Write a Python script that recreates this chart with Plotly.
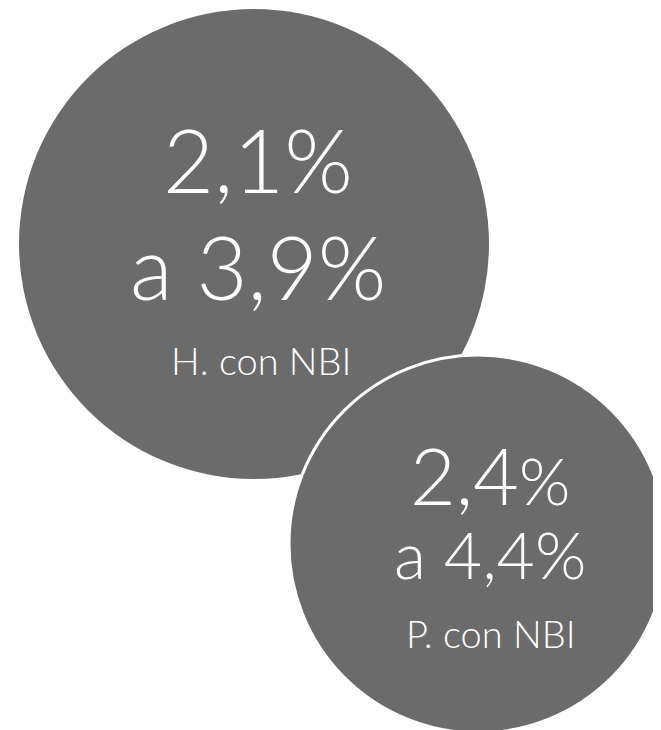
import plotly.graph_objects as go

# Bubble data
bubble_cx = [254, 478]
bubble_cy = [244, 544]
bubble_r = [235, 189]
bubble_line = [0, 3]

# Text content
big_line1 = "2,1%"
big_line2 = "a 3,9%"
big_label = "H. con NBI"
small_line1_num = "2,4"
small_line1_pct = "%"
small_line2 = "a 4,4%"
small_label = "P. con NBI"

GRAY = "#6b6b6b"
FONT = "Lato"
PAGE_OFFSET = 8  # default body margin of the html page

fig = go.Figure()

shapes = []
for cx, cy, r, lw in zip(bubble_cx, bubble_cy, bubble_r, bubble_line):
    shapes.append(dict(
        type="circle", xref="x", yref="y",
        x0=cx - r, x1=cx + r, y0=cy - r, y1=cy + r,
        fillcolor=GRAY,
        line=dict(color="white", width=lw) if lw else dict(width=0),
        layer="below",
    ))

def ann(text, x, baseline, size):
    return dict(
        text=text, x=x, y=baseline - 0.387 * size, xref="x", yref="y",
        xanchor="center", yanchor="middle", showarrow=False, borderpad=0,
        font=dict(family=FONT, size=size, color="white", weight=300),
    )

annotations = [
    ann(big_line1, 258, 193, 88),
    ann(big_line2, 258, 300, 88),
    ann(big_label, 261, 375, 38),
    ann(f"<span style='font-size:79px'>{small_line1_num}</span>{small_line1_pct}", 490, 500, 66),
    ann(small_line2, 490, 579, 66),
    ann(small_label, 491, 648, 38),
]

fig.add_trace(go.Scatter(x=bubble_cx, y=bubble_cy, mode="markers",
                         marker=dict(size=1, opacity=0), hoverinfo="skip",
                         showlegend=False))

W, H = 661, 730
fig.update_layout(
    width=W - PAGE_OFFSET, height=H - PAGE_OFFSET,
    margin=dict(l=0, r=0, t=0, b=0),
    paper_bgcolor="white", plot_bgcolor="white",
    shapes=shapes, annotations=annotations,
    xaxis=dict(range=[PAGE_OFFSET, W], visible=False, fixedrange=True),
    yaxis=dict(range=[H, PAGE_OFFSET], visible=False, fixedrange=True),
    showlegend=False,
)

fig.write_html("out.html", config={"displayModeBar": False})
